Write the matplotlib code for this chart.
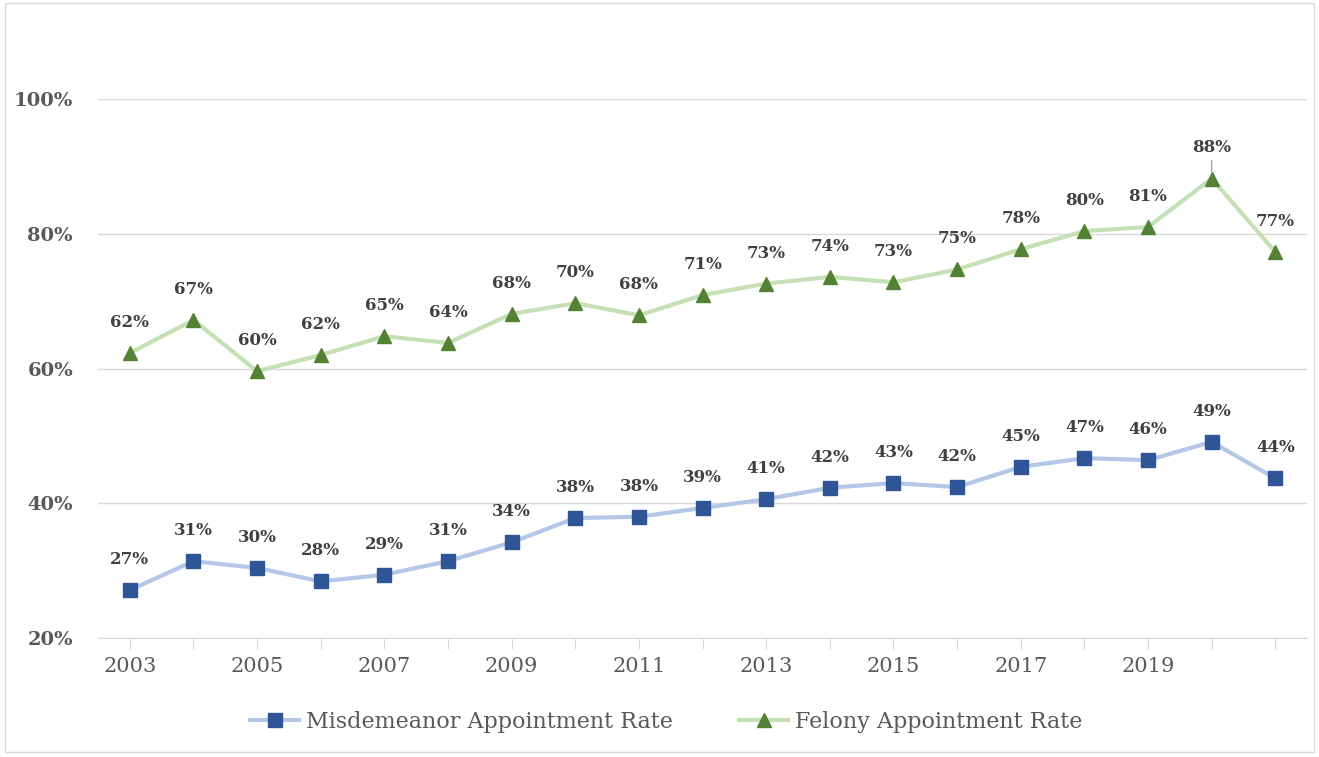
import matplotlib
matplotlib.use("Agg")
import matplotlib.pyplot as plt
from matplotlib.patches import Rectangle

years = list(range(2003, 2022))
misdemeanor = [27.1, 31.4, 30.4, 28.4, 29.4, 31.4, 34.2, 37.8, 38.0, 39.3,
               40.6, 42.3, 43.0, 42.4, 45.4, 46.7, 46.4, 49.1, 43.7]
felony = [62.3, 67.2, 59.6, 62.0, 64.8, 63.8, 68.1, 69.7, 67.9, 70.9,
          72.6, 73.6, 72.8, 74.7, 77.7, 80.4, 81.0, 88.2, 77.3]
yticks = [20, 40, 60, 80, 100]
xlabels = ['2003', '', '2005', '', '2007', '', '2009', '', '2011', '', '2013', '',
           '2015', '', '2017', '', '2019', '', '']

plt.rcParams['font.family'] = ['DejaVu Serif']
gray = '#595959'
grid_c = '#d9d9d9'

fig = plt.figure(figsize=(13.19, 7.57), dpi=100)
ax = fig.add_axes([0.0743, 0.1572, 0.9167, 0.712])

x = list(range(len(years)))
ax.plot(x, misdemeanor, color='#b4c7e7', lw=3, marker='s', ms=9.5,
        mfc='#2f5597', mec='#2f5597', label='Misdemeanor Appointment Rate', zorder=3)
ax.plot(x, felony, color='#c5e0b4', lw=3, marker='^', ms=10.5,
        mfc='#548235', mec='#548235', label='Felony Appointment Rate', zorder=3)

for series in (misdemeanor, felony):
    for i, v in enumerate(series):
        ax.annotate(f"{round(v)}%", (i, v), xytext=(0, 22), textcoords='offset points',
                    ha='center', va='center', fontsize=12, fontweight='bold',
                    color='#404040', zorder=4)

# leader line for the 2020 felony label
ax.annotate('', (17, felony[17]), xytext=(0, 22), textcoords='offset points',
            arrowprops=dict(arrowstyle='-', color='#a6a6a6', lw=1, shrinkA=9, shrinkB=5))

ax.set_xlim(-0.5, len(years) - 0.5)
ax.set_ylim(20, 100)
ax.set_yticks(yticks)
ax.set_yticklabels([f"{t}%" for t in yticks], fontsize=14, fontweight='bold', color=gray)
ax.set_xticks(x)
ax.set_xticklabels(xlabels, fontsize=15, color=gray)
ax.tick_params(axis='y', length=0, pad=18)
ax.tick_params(axis='x', length=8, color=grid_c, pad=6)
ax.grid(axis='y', color=grid_c, lw=1)
ax.set_axisbelow(True)
for s in ['top', 'right', 'left']:
    ax.spines[s].set_visible(False)
ax.spines['bottom'].set_color(grid_c)

fig.legend(loc='center', bbox_to_anchor=(0.505, 0.046), ncol=2, frameon=False,
           fontsize=16, handlelength=2.2, columnspacing=3, handletextpad=0.3,
           labelcolor=gray)

fig.patches.append(Rectangle((0.004, 0.006), 0.992, 0.99, transform=fig.transFigure,
                             fill=False, edgecolor=grid_c, lw=1))

fig.savefig('out.png', dpi=100)
